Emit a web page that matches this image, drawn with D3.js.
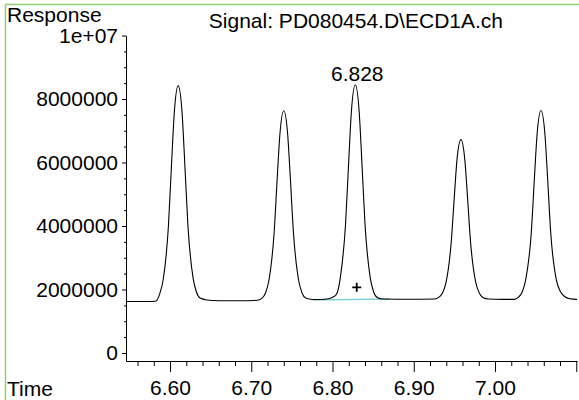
<!DOCTYPE html>
<html>
<head>
<meta charset="utf-8">
<script src="https://cdn.jsdelivr.net/npm/d3@7"></script>
<style>
  body { margin: 0; background: #fff; }
  svg { display: block; font-family: "Liberation Sans", Arial, sans-serif; }
</style>
</head>
<body>
<svg width="579" height="400"></svg>
<script>
// chromatogram trace, [time (min), response]
const trace = [
  [6.5458, 1620000], [6.570, 1620000], [6.582, 1630000], [6.5875, 1880000], [6.5915, 2300000],
  [6.598, 3990000], [6.602, 6030000], [6.6052, 7550000], [6.610, 8420000], [6.6148, 7570000],
  [6.618, 6050000], [6.622, 4020000], [6.6285, 2340000], [6.6325, 1920000], [6.637, 1730000],
  [6.645, 1670000], [6.660, 1645000], [6.690, 1645000], [6.703, 1655000], [6.710, 1680000],
  [6.713, 1720000], [6.7175, 1890000], [6.7215, 2260000], [6.728, 3750000], [6.732, 5540000],
  [6.7352, 6880000], [6.740, 7630000], [6.7448, 6880000], [6.748, 5540000], [6.752, 3750000],
  [6.7585, 2260000], [6.7625, 1890000], [6.767, 1730000], [6.775, 1685000],
  [6.785, 1685000], [6.795, 1710000], [6.802, 1780000], [6.8055, 1880000], [6.8095, 2360000],
  [6.816, 4050000], [6.820, 6080000], [6.8232, 7600000], [6.828, 8450000], [6.8328, 7600000],
  [6.836, 6080000], [6.840, 4050000], [6.8465, 2360000], [6.8505, 1930000], [6.855, 1750000],
  [6.862, 1700000], [6.880, 1695000], [6.910, 1695000], [6.926, 1700000],
  [6.9305, 1750000], [6.9355, 1900000], [6.9395, 2200000], [6.946, 3460000], [6.950, 4960000],
  [6.9532, 6090000], [6.958, 6720000], [6.9628, 6090000], [6.966, 4960000], [6.970, 3460000],
  [6.9765, 2200000], [6.9805, 1900000], [6.985, 1750000], [6.992, 1700000], [7.010, 1690000],
  [7.024, 1690000],
  [7.0286, 1750000], [7.0336, 1930000], [7.0376, 2290000], [7.0446, 3770000], [7.0486, 5560000],
  [7.0518, 6900000], [7.0566, 7640000], [7.0614, 6900000], [7.0646, 5560000], [7.0686, 3770000],
  [7.0756, 2290000], [7.0801, 1950000], [7.0856, 1780000], [7.092, 1710000], [7.1009, 1690000]
];

// integration baseline under the labelled peak
const peakBaseline = [[6.7764, 1670000], [6.870, 1700000]];
const peakApex = [6.828, 8450000];
const peakLabel = "6.828";
const peakMarker = [6.8298, 2070000];

const xMajor = [6.6, 6.7, 6.8, 6.9, 7.0];
const xTickLabels = ["6.60", "6.70", "6.80", "6.90", "7.00"];
const xEndTick = [7.1];
const xMinor = [6.56, 6.58, 6.62, 6.64, 6.66, 6.68, 6.72, 6.74, 6.76, 6.78, 6.82, 6.84, 6.86, 6.88,
                6.92, 6.94, 6.96, 6.98, 7.02, 7.04, 7.06, 7.08];

const yMajor = [0, 2000000, 4000000, 6000000, 8000000, 10000000];
const yTickLabels = ["0", "2000000", "4000000", "6000000", "8000000", "1e+07"];
const yMinor = [500000, 1000000, 1500000, 2500000, 3000000, 3500000, 4500000, 5000000, 5500000,
                6500000, 7000000, 7500000, 8500000, 9000000, 9500000];

const title = "Signal: PD080454.D\\ECD1A.ch";

const svg = d3.select("svg");

const x = d3.scaleLinear().domain([6.5458, 7.1009]).range([126, 577]);
const y = d3.scaleLinear().domain([-252000, 10000000]).range([361, 35.5]);

// green frame
svg.append("line").attr("x1", 5).attr("y1", 4.5).attr("x2", 579).attr("y2", 4.5)
  .style("stroke", "#8fd070").style("stroke-width", 1.5);
svg.append("line").attr("x1", 5.5).attr("y1", 4).attr("x2", 5.5).attr("y2", 400)
  .style("stroke", "#8fd070").style("stroke-width", 1.5);

// axes
svg.append("g").attr("transform", "translate(126,0)")
  .call(d3.axisLeft(y).tickValues(yMajor).tickSize(4).tickSizeOuter(0)
    .tickFormat((d, i) => yTickLabels[i]).tickPadding(4));
svg.append("g").attr("transform", "translate(126,0)")
  .call(d3.axisLeft(y).tickValues(yMinor).tickSize(2).tickFormat(""))
  .select(".domain").remove();

svg.append("g").attr("transform", "translate(0,361)")
  .call(d3.axisBottom(x).tickValues(xMajor).tickSize(11).tickSizeOuter(0)
    .tickFormat((d, i) => xTickLabels[i]).tickPadding(8));
svg.append("g").attr("transform", "translate(0,361)")
  .call(d3.axisBottom(x).tickValues(xEndTick).tickSize(11).tickFormat(""))
  .select(".domain").remove();
svg.append("g").attr("transform", "translate(0,361)")
  .call(d3.axisBottom(x).tickValues(xMinor).tickSize(5).tickFormat(""))
  .select(".domain").remove();

svg.selectAll(".tick text").style("font-size", "21px").style("fill", "#000")
  .style("font-family", "'Liberation Sans', Arial, sans-serif");
svg.selectAll(".domain, .tick line").style("stroke", "#000");

// titles
svg.append("text").attr("x", 7).attr("y", 22).style("font-size", "21px").text("Response");
svg.append("text").attr("x", 7).attr("y", 396).style("font-size", "21px").text("Time");
svg.append("text").attr("x", 503).attr("y", 28).attr("text-anchor", "end")
  .style("font-size", "21px").text(title);

// integration baseline
svg.append("path")
  .datum(peakBaseline)
  .attr("d", d3.line().x(d => x(d[0])).y(d => y(d[1])))
  .style("fill", "none").style("stroke", "#80d0d8").style("stroke-width", 1.3);

// signal trace
svg.append("path")
  .datum(trace)
  .attr("d", d3.line().x(d => x(d[0])).y(d => y(d[1])).curve(d3.curveMonotoneX))
  .style("fill", "none").style("stroke", "#000").style("stroke-width", 1.1);

// peak annotation
svg.append("text")
  .attr("x", x(peakApex[0]) + 2)
  .attr("y", y(peakApex[1]) - 4)
  .attr("text-anchor", "middle")
  .style("font-size", "21px")
  .text(peakLabel);

const px = x(peakMarker[0]), py = y(peakMarker[1]);
svg.append("path")
  .attr("d", `M${px - 4.5},${py}H${px + 4.5}M${px},${py - 4.5}V${py + 4.5}`)
  .style("stroke", "#000").style("stroke-width", 1.8);
</script>
</body>
</html>
